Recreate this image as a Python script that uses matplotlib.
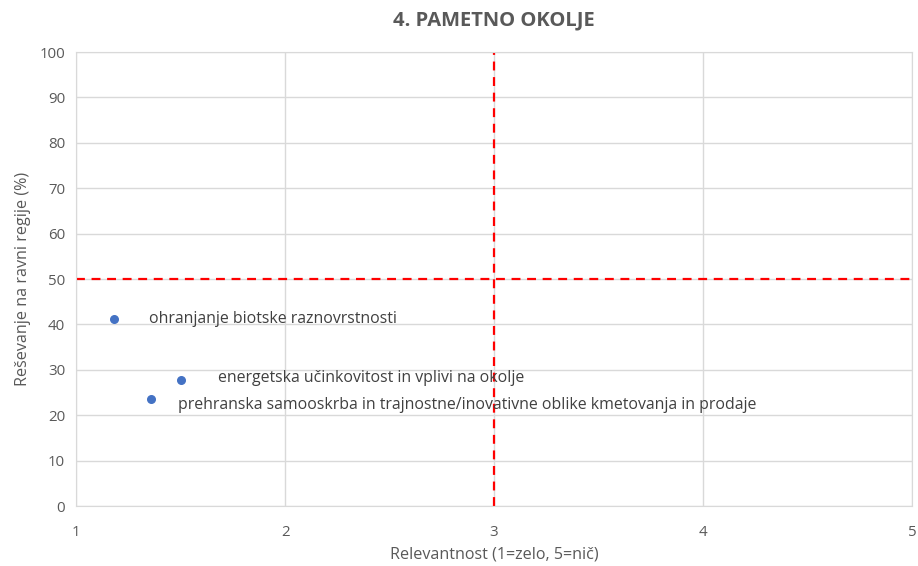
import matplotlib.pyplot as plt

plt.rcParams['font.family'] = ['Open Sans', 'DejaVu Sans']

# podatki
labels = ['ohranjanje biotske raznovrstnosti',
          'energetska učinkovitost in vplivi na okolje',
          'prehranska samooskrba in trajnostne/inovativne oblike kmetovanja in prodaje']
relevantnost = [1.18, 1.50, 1.36]
resevanje = [41.3, 27.8, 23.6]
offsets = [(35, 0), (37, 2), (27, -6)]

fig, ax = plt.subplots(figsize=(9.18, 5.66), dpi=100)
fig.subplots_adjust(left=0.083, right=0.9935, bottom=0.106, top=0.908)

ax.scatter(relevantnost, resevanje, s=30, color='#4472C4', zorder=3)
for lab, x, y, off in zip(labels, relevantnost, resevanje, offsets):
    ax.annotate(lab, (x, y), xytext=off, textcoords='offset pixels',
                va='center', ha='left', fontsize=11.4, color='#404040')

ax.axvline(3, color='#FF0000', linestyle=(0, (4, 3)), linewidth=1.6, zorder=2)
ax.axhline(50, color='#FF0000', linestyle=(0, (4, 3)), linewidth=1.6, zorder=2)

ax.set_xlim(1, 5)
ax.set_ylim(0, 100)
ax.set_xticks([1, 2, 3, 4, 5])
ax.set_yticks(range(0, 101, 10))
ax.grid(True, color='#D9D9D9', linewidth=1)
ax.set_axisbelow(True)
for s in ax.spines.values():
    s.set_color('#D9D9D9')
ax.tick_params(length=0, colors='#595959', labelsize=10.8, pad=8)
ax.tick_params(axis='x', pad=14)

ax.set_xlabel('Relevantnost (1=zelo, 5=nič)', color='#595959', fontsize=11.6, labelpad=4)
ax.set_ylabel('Reševanje na ravni regije (%)', color='#595959', fontsize=11.6, labelpad=6)
ax.set_title('4. PAMETNO OKOLJE', color='#595959', fontsize=14.5, fontweight='bold', pad=19)

plt.savefig('out.png')
